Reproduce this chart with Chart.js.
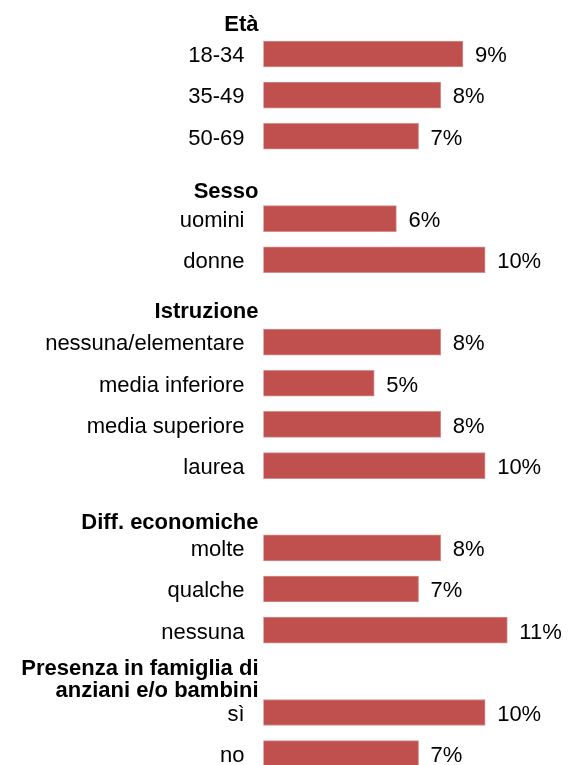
<!DOCTYPE html>
<html>
<head>
<meta charset="utf-8">
<script src="https://cdn.jsdelivr.net/npm/chart.js@4"></script>
<style>
  html, body { margin: 0; padding: 0; background: #ffffff; }
  #wrap { width: 569px; height: 765px; }
</style>
</head>
<body>
<div id="wrap"><canvas id="c" width="569" height="765"></canvas></div>
<script>
// ---- data ----
const categories = [
  'Età', '18-34', '35-49', '50-69',
  'Sesso', 'uomini', 'donne',
  'Istruzione', 'nessuna/elementare', 'media inferiore', 'media superiore', 'laurea',
  'Diff. economiche', 'molte', 'qualche', 'nessuna',
  ['Presenza in famiglia di', 'anziani e/o bambini'], 'sì', 'no'
];
const values = [
  null, 9, 8, 7,
  null, 6, 10,
  null, 8, 5, 8, 10,
  null, 8, 7, 11,
  null, 10, 7
];
const valueSuffix = '%';

// ---- build points (header rows carry no bar) ----
const points = [];
values.forEach((v, i) => { if (v !== null) points.push({ x: v, y: i }); });

const FONT = "'Liberation Sans', Arial, sans-serif";

const rowLabelsPlugin = {
  id: 'rowLabels',
  afterDatasetsDraw(chart, args, opts) {
    const ctx = chart.ctx;
    const yScale = chart.scales.y;
    ctx.save();
    ctx.fillStyle = opts.color;
    ctx.textBaseline = 'alphabetic';
    // category labels
    categories.forEach((lab, i) => {
      const cy = yScale.getPixelForValue(i);
      const header = values[i] === null;
      if (header) {
        ctx.font = 'bold ' + opts.size + 'px ' + FONT;
        ctx.textAlign = 'right';
        const lines = Array.isArray(lab) ? lab : [lab];
        const shifts = opts.headerBaseline[i];
        lines.forEach((ln, k) => {
          const s = Array.isArray(shifts) ? shifts[k] : shifts;
          ctx.fillText(ln, opts.headerRight, cy + s);
        });
      } else {
        ctx.font = opts.size + 'px ' + FONT;
        ctx.textAlign = 'right';
        ctx.fillText(lab, opts.labelRight, cy + opts.baseline);
      }
    });
    // value labels
    const meta = chart.getDatasetMeta(0);
    ctx.font = opts.size + 'px ' + FONT;
    ctx.textAlign = 'left';
    meta.data.forEach((el, j) => {
      const p = points[j];
      ctx.fillText(p.x + valueSuffix, el.x + opts.valueGap, el.y + opts.baseline);
    });
    ctx.restore();
  }
};

new Chart(document.getElementById('c'), {
  type: 'bar',
  data: {
    datasets: [{
      data: points,
      backgroundColor: '#C0504D',
      borderColor: '#D68E8C',
      borderWidth: 1,
      borderSkipped: false,
      barThickness: 26
    }]
  },
  options: {
    indexAxis: 'y',
    responsive: false,
    animation: false,
    devicePixelRatio: 1,
    layout: { padding: { left: 263.3, right: 0, top: 0, bottom: 0 } },
    scales: {
      x: { type: 'linear', min: 0, max: 13.78, display: false, offset: false },
      y: { type: 'linear', reverse: true, min: -0.311, max: 18.275, display: false, offset: false }
    },
    plugins: {
      legend: { display: false },
      tooltip: { enabled: false },
      rowLabels: {
        color: '#000000',
        size: 22,
        baseline: 8.3,
        labelRight: 244.5,
        headerRight: 258.5,
        valueGap: 12,
        headerBaseline: { 0: 18.2, 4: 21, 7: 17.4, 12: 22.6, 16: [3.6, 26] }
      }
    }
  },
  plugins: [rowLabelsPlugin]
});
</script>
</body>
</html>
